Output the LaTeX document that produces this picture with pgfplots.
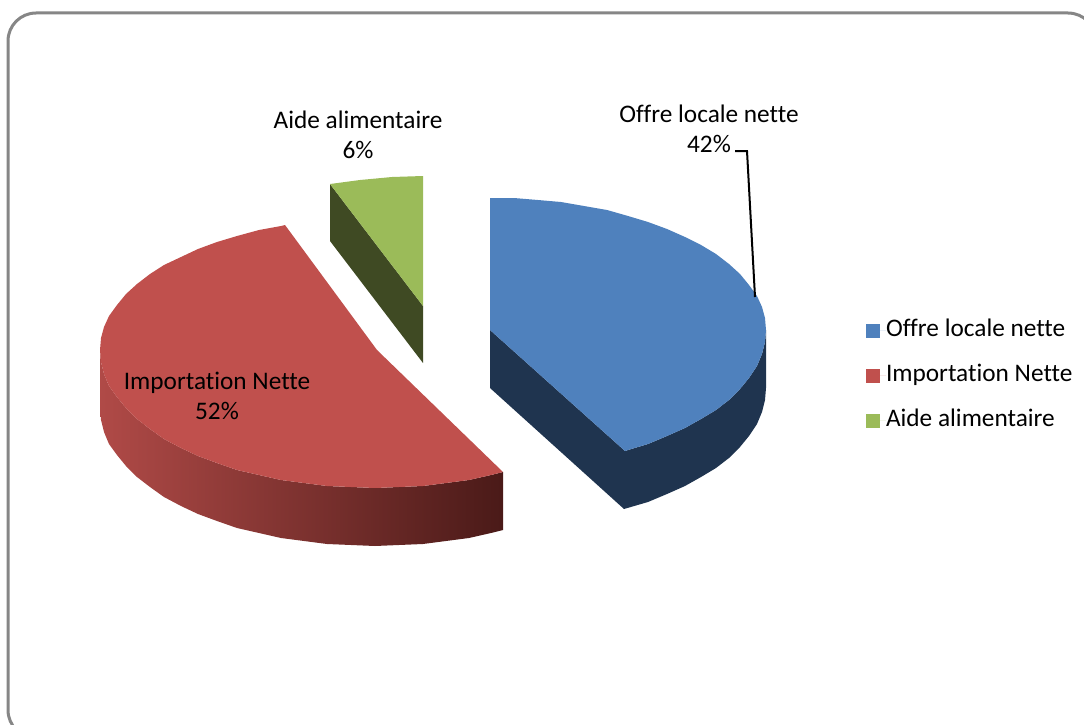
\documentclass[border=0pt]{standalone}
\usepackage{pgfplots}
\pgfplotsset{compat=1.18}
\usepackage{fontspec}
\setmainfont[Ligatures={NoCommon}]{Carlito}

\definecolor{blueTop}{HTML}{4F81BD}
\definecolor{blueSide}{HTML}{1F344F}
\definecolor{redTop}{HTML}{C0504D}
\definecolor{redSideL}{HTML}{B04A47}
\definecolor{redSideR}{HTML}{4A1A18}
\definecolor{greenTop}{HTML}{9BBB59}
\definecolor{greenSide}{HTML}{3F4A23}
\definecolor{frame}{HTML}{868686}

\begin{document}
\begin{tikzpicture}
\begin{axis}[
    scale only axis,
    width=1084pt,
    height=725pt,
    xmin=0, xmax=1084,
    ymin=0, ymax=725,
    y dir=reverse,
    hide axis,
    clip=true,
    no markers,
    legend cell align=left,
    legend image code/.code={\fill[#1] (0pt,-7pt) rectangle (14pt,7pt); \path (0pt,0pt) -- (20pt,0pt);},
    legend style={
        at={(axis cs:866,319)}, anchor=north west,
        draw=none, fill=none, inner sep=0pt, outer sep=0pt,
        row sep=22pt,
        font=\fontsize{25.3}{30}\selectfont,
        nodes={inner sep=0pt, outer sep=0pt, text height=17pt, text depth=6pt},
    },
]

% keeps the whole page in the bounding box, hide axis drops it
\path (axis cs:0,0) rectangle (axis cs:1084,725);

% frame runs off the right and bottom of the picture
\draw[frame, line width=3pt, rounded corners=28pt]
    (axis cs:8,13) rectangle (axis cs:1096,738);

% blue slice, 42%
\addplot[forget plot, fill=blueSide, draw=none] coordinates {
    (490,330) (625,451) (628,450) (648,444) (667,436) (685,428) (701,419) (716,410) (729,400)
    (740,389) (749,378) (757,366) (762,354) (765,342) (766,330)
    (766,388) (765,400) (762,412) (757,424) (749,436) (740,447) (729,458) (716,468) (701,477)
    (685,486) (667,494) (648,502) (624,509) (490,388)
};
\addplot[fill=blueTop, draw=none] coordinates {
    (490,198) (514,198) (538,200) (561,202) (584,206) (607,210) (628,216) (648,222) (667,229)
    (685,237) (701,245) (716,254) (729,264) (740,274) (749,285) (757,296) (762,307) (765,318)
    (766,330) (765,342) (762,354) (757,366) (749,378) (740,389) (729,400) (716,410) (701,419)
    (685,428) (667,436) (648,444) (628,450) (625,451) (490,330)
};
\addlegendentry{Offre locale nette}

% red slice, 52%
\addplot[forget plot, draw=none, left color=redSideL, right color=redSideR] coordinates {
    (100,350) (101,362) (104,374) (109,386) (117,397) (126,408) (137,419) (150,429) (164,439)
    (181,448) (198,456) (217,463) (237,470) (259,475) (281,480) (304,483) (327,486) (351,487)
    (375,488) (399,487) (423,486) (446,483) (469,480) (491,475) (503,472)
    (503,530) (491,533) (469,538) (446,541) (423,544) (399,545) (375,546) (351,545) (327,544)
    (304,541) (281,538) (259,533) (237,528) (217,521) (198,514) (181,506) (164,497) (150,487)
    (137,477) (126,466) (117,455) (109,444) (104,432) (101,420) (100,408)
};
\addplot[fill=redTop, draw=none] coordinates {
    (285,225) (281,226) (259,230) (237,236) (217,242) (198,249) (181,257) (164,265) (150,274)
    (137,284) (126,294) (117,305) (109,316) (104,327) (101,338) (100,350) (101,362) (104,374)
    (109,386) (117,397) (126,408) (137,419) (150,429) (164,439) (181,448) (198,456) (217,463)
    (237,470) (259,475) (281,480) (304,483) (327,486) (351,487) (375,488) (399,487) (423,486)
    (446,483) (469,480) (491,475) (503,472) (377,350)
};
\addlegendentry{Importation Nette}

% green slice, 6%
\addplot[forget plot, fill=greenSide, draw=none] coordinates {
    (330,184) (423,306) (423,363) (330,241)
};
\addplot[fill=greenTop, draw=none] coordinates {
    (330,184) (360,180) (392,177) (423,176) (423,306)
};
\addlegendentry{Aide alimentaire}

% leader line of the blue label
\draw[black, line width=2pt] (axis cs:735,151) -- (axis cs:747,151) -- (axis cs:755,297);

\node[align=center, font=\fontsize{25.3}{30}\selectfont] at (axis cs:358,135) {Aide alimentaire\\6\%};
\node[align=center, font=\fontsize{25.3}{30}\selectfont] at (axis cs:709,129) {Offre locale nette\\42\%};
\node[align=center, font=\fontsize{25.3}{30}\selectfont] at (axis cs:217,396) {Importation Nette\\52\%};

\end{axis}
\end{tikzpicture}
\end{document}
